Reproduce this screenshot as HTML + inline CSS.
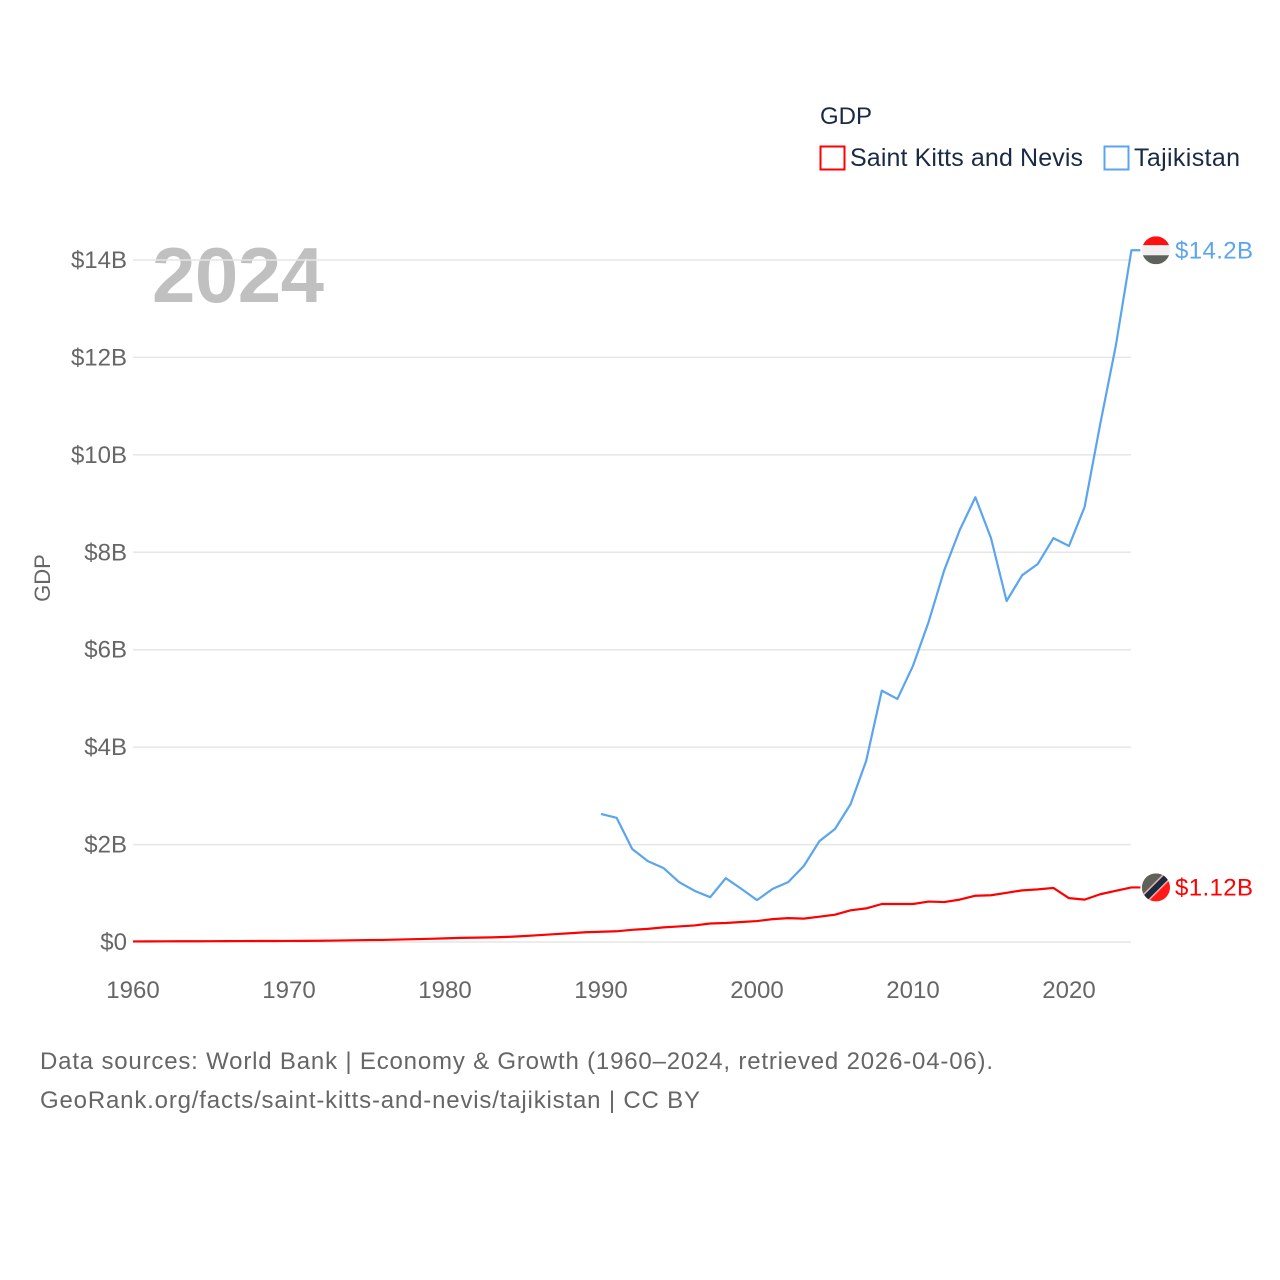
<!DOCTYPE html>
<html><head><meta charset="utf-8"><style>
body{margin:0;background:#fff}
svg{display:block;font-family:"Liberation Sans",sans-serif}
</style></head><body>
<svg id="chart" width="1280" height="1280" viewBox="0 0 1280 1280">
<text x="820" y="124" font-size="24" fill="#1a2a44">GDP</text>
<g>
<rect x="820.5" y="146.5" width="24" height="23" fill="none" stroke="#ff0000" stroke-width="2"/>
<text x="850" y="166" font-size="25" fill="#1a2a44" textLength="233">Saint Kitts and Nevis</text></g>
<g>
<rect x="1104.5" y="146.5" width="24" height="23" fill="none" stroke="#5aa5ee" stroke-width="2"/>
<text x="1134" y="166" font-size="25" fill="#1a2a44" textLength="106">Tajikistan</text></g>
<text x="152" y="302" font-size="78" font-weight="bold" fill="#c0c0c0" textLength="172">2024</text>
<g id="grid"></g><g id="yticks"></g><g id="xticks"></g><g id="lines"></g>
<text transform="translate(50,578) rotate(-90)" text-anchor="middle" font-size="22" fill="#666">GDP</text>
<text x="40" y="1069" font-size="24" fill="#666" textLength="953">Data sources: World Bank | Economy &amp; Growth (1960–2024, retrieved 2026-04-06).</text>
<text x="40" y="1108" font-size="24" fill="#666" textLength="660">GeoRank.org/facts/saint-kitts-and-nevis/tajikistan | CC BY</text>
</svg>
<script>
const yTicks=[0,2,4,6,8,10,12,14];
const yTickLabels=["$0","$2B","$4B","$6B","$8B","$10B","$12B","$14B"];
const xTicks=[1960,1970,1980,1990,2000,2010,2020];
const kittsYears=[];for(let y=1960;y<=2024;y++)kittsYears.push(y);
const kittsValues=[0.012,0.013,0.014,0.015,0.016,0.017,0.018,0.019,0.02,0.021,
0.022,0.023,0.026,0.03,0.035,0.04,0.042,0.05,0.058,0.065,
0.075,0.085,0.09,0.095,0.105,0.12,0.14,0.16,0.18,0.2,
0.21,0.22,0.25,0.27,0.3,0.32,0.34,0.38,0.39,0.41,
0.43,0.47,0.49,0.48,0.52,0.56,0.65,0.69,0.78,0.78,
0.78,0.83,0.82,0.87,0.95,0.96,1.01,1.06,1.08,1.11,
0.9,0.87,0.98,1.05,1.12];
const tajYears=[];for(let y=1990;y<=2024;y++)tajYears.push(y);
const tajValues=[2.63,2.55,1.91,1.66,1.52,1.23,1.05,0.92,1.31,1.09,
0.86,1.09,1.23,1.56,2.07,2.32,2.83,3.72,5.16,4.99,
5.67,6.57,7.63,8.46,9.13,8.29,7.0,7.53,7.76,8.29,
8.13,8.93,10.63,12.24,14.2];
const kittsLabel="$1.12B", tajLabel="$14.2B";
const NS="http://www.w3.org/2000/svg";
const X=y=>133+(y-1960)*15.6;
const Y=v=>942-v*48.714;
function mk(t,a,p){const e=document.createElementNS(NS,t);for(const k in a)e.setAttribute(k,a[k]);p.appendChild(e);return e;}
const grid=document.getElementById('grid'),yt=document.getElementById('yticks'),xt=document.getElementById('xticks'),ln=document.getElementById('lines');
yTicks.forEach((v,i)=>{
 const l=mk('line',{x1:133,x2:1131,y1:Y(v),y2:Y(v),stroke:'#e6e6e6','stroke-width':1.5},grid);
 
 
 const t=mk('text',{x:127,y:Y(v)+8,'text-anchor':'end','font-size':24,fill:'#666'},yt);
 t.textContent=yTickLabels[i];
 
 
});
xTicks.forEach(v=>{
 const t=mk('text',{x:X(v),y:998,'text-anchor':'middle','font-size':24,fill:'#666'},xt);
 t.textContent=v;
 
 
});
function series(ys,vs,color,name){
 const pts=ys.map((y,i)=>X(y)+','+Y(vs[i]));
 pts.push((X(ys[ys.length-1])+9)+','+Y(vs[vs.length-1]));
 const p=mk('polyline',{points:pts.join(' '),fill:'none',stroke:color,'stroke-width':2.2,'stroke-linejoin':'round'},ln);
 
 
}
series(tajYears,tajValues,'#5aa5ee','tajikistan-line');
series(kittsYears,kittsValues,'#ff0000','saint-kitts-line');
const ty=Y(tajValues[tajValues.length-1]), ky=Y(kittsValues[kittsValues.length-1]);
const g1=mk('g',{},ln);


mk('clipPath',{id:'c1'},g1);mk('circle',{cx:1156,cy:ty,r:14},document.getElementById('c1'));
mk('rect',{x:1142,y:ty-14,width:28,height:9,fill:'#ff1010','clip-path':'url(#c1)'},g1);
mk('rect',{x:1142,y:ty-5,width:28,height:10,fill:'#f0f0f0','clip-path':'url(#c1)'},g1);
mk('rect',{x:1142,y:ty+5,width:28,height:9,fill:'#5e625c','clip-path':'url(#c1)'},g1);
const t1=mk('text',{x:1175,y:ty+8,'font-size':24,fill:'#5aa5ee',textLength:78},ln);t1.textContent=tajLabel;


const g2=mk('g',{},ln);


mk('clipPath',{id:'c2'},g2);mk('circle',{cx:1156,cy:ky,r:14},document.getElementById('c2'));
mk('rect',{x:1142,y:ky-14,width:28,height:28,fill:'#ff1a1a','clip-path':'url(#c2)'},g2);
mk('polygon',{points:`1142,${ky+14} 1142,${ky-14} 1170,${ky-14}`,fill:'#5e625c','clip-path':'url(#c2)'},g2);
mk('line',{x1:1142,y1:ky+14,x2:1170,y2:ky-14,stroke:'#f4b0a0','stroke-width':9,'clip-path':'url(#c2)'},g2);
mk('line',{x1:1142,y1:ky+14,x2:1170,y2:ky-14,stroke:'#1a2a44','stroke-width':6,'clip-path':'url(#c2)'},g2);
const t2=mk('text',{x:1175,y:ky+8,'font-size':24,fill:'#ff0000',textLength:78},ln);t2.textContent=kittsLabel;


</script>
</body></html>
